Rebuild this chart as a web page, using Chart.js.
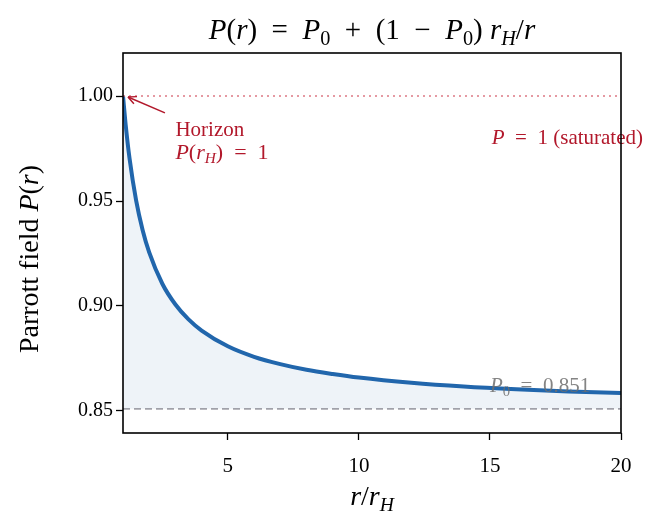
<!DOCTYPE html>
<html>
<head>
<meta charset="utf-8">
<script src="https://cdn.jsdelivr.net/npm/chart.js@4.4.1/dist/chart.umd.min.js"></script>
<style>
  html, body { margin: 0; padding: 0; background: #fff; }
  #wrap { width: 659px; height: 517px; }
</style>
</head>
<body>
<div id="wrap"><canvas id="chartParrott" width="659" height="517"></canvas></div>
<script>
// valores
const radios = [1, 1.1, 1.25, 1.5, 1.75, 2, 2.5, 3, 3.5, 4, 5, 6, 7, 8, 9, 10, 12, 14, 16, 18, 20];
const campoP = [1.000, 0.9865, 0.9702, 0.9503, 0.9361, 0.9255, 0.9106, 0.9007, 0.8936, 0.8883,
                0.8808, 0.8758, 0.8723, 0.8696, 0.8676, 0.8659, 0.8634, 0.8616, 0.8603, 0.8593, 0.8585];
const P0 = 0.851;
const xTicks = [5, 10, 15, 20];
const yTicks = [0.85, 0.90, 0.95, 1.00];

const serif = '"Liberation Serif", "DejaVu Serif", serif';
const rojo = '#b2182b';
const esp = '\u2002'; // espacio ancho de modo matematico

// dibuja texto con trozos en italica y subindices
function richText(ctx, parts, x, y, size, align, color) {
    ctx.save();
    ctx.fillStyle = color;
    ctx.textBaseline = 'alphabetic';
    ctx.textAlign = 'left';
    let total = 0;
    parts.forEach(p => {
        const s = p.sub ? size * 0.7 : size;
        ctx.font = (p.i ? 'italic ' : '') + s + 'px ' + serif;
        total += ctx.measureText(p.t).width;
    });
    let cx = align === 'center' ? x - total / 2 : align === 'right' ? x - total : x;
    parts.forEach(p => {
        const s = p.sub ? size * 0.7 : size;
        ctx.font = (p.i ? 'italic ' : '') + s + 'px ' + serif;
        ctx.fillText(p.t, cx, p.sub ? y + size * 0.22 : y);
        cx += ctx.measureText(p.t).width;
    });
    ctx.restore();
}

const textos = {
    id: 'textos',
    afterDraw(chart) {
        const ctx = chart.ctx;
        const xs = chart.scales.x, ys = chart.scales.y;
        const area = chart.chartArea;

        // titulo
        richText(ctx, [
            {t: 'P', i: true}, {t: '('}, {t: 'r', i: true}, {t: ')' + esp + '=' + esp},
            {t: 'P', i: true}, {t: '0', sub: true}, {t: esp + '+' + esp + '(1' + esp + '−' + esp},
            {t: 'P', i: true}, {t: '0', sub: true}, {t: ') '},
            {t: 'r', i: true}, {t: 'H', i: true, sub: true}, {t: '/'}, {t: 'r', i: true}
        ], (area.left + area.right) / 2, 39, 29, 'center', '#000');

        // titulo eje x
        richText(ctx, [{t: 'r', i: true}, {t: '/'}, {t: 'r', i: true}, {t: 'H', i: true, sub: true}],
            (area.left + area.right) / 2, 505, 28, 'center', '#000');

        // titulo eje y
        ctx.save();
        ctx.translate(38, (area.top + area.bottom) / 2 + 16);
        ctx.rotate(-Math.PI / 2);
        richText(ctx, [{t: 'Parrott field '}, {t: 'P', i: true}, {t: '('}, {t: 'r', i: true}, {t: ')'}],
            0, 0, 28, 'center', '#000');
        ctx.restore();

        // flecha del horizonte
        const tx = xs.getPixelForValue(1) + 5, ty = ys.getPixelForValue(1.0) + 1;
        const fx = xs.getPixelForValue(2.6), fy = ys.getPixelForValue(0.992);
        ctx.save();
        ctx.strokeStyle = rojo;
        ctx.fillStyle = rojo;
        ctx.lineWidth = 1.5;
        ctx.beginPath();
        ctx.moveTo(fx, fy);
        ctx.lineTo(tx, ty);
        ctx.stroke();
        const ang = Math.atan2(ty - fy, tx - fx);
        ctx.beginPath();
        ctx.moveTo(tx, ty);
        ctx.lineTo(tx - 9 * Math.cos(ang - 0.45), ty - 9 * Math.sin(ang - 0.45));
        ctx.moveTo(tx, ty);
        ctx.lineTo(tx - 9 * Math.cos(ang + 0.45), ty - 9 * Math.sin(ang + 0.45));
        ctx.stroke();
        ctx.restore();

        const hx = xs.getPixelForValue(3.0);
        richText(ctx, [{t: 'Horizon'}], hx, ys.getPixelForValue(0.9812), 21, 'left', rojo);
        richText(ctx, [{t: 'P', i: true}, {t: '('}, {t: 'r', i: true}, {t: 'H', i: true, sub: true}, {t: ')' + esp + '=' + esp + '1'}],
            hx, ys.getPixelForValue(0.9702), 22, 'left', rojo);

        richText(ctx, [{t: 'P', i: true}, {t: esp + '=' + esp + '1 (saturated)'}],
            area.right + 22, ys.getPixelForValue(0.9772), 21, 'right', rojo);

        richText(ctx, [{t: 'P', i: true}, {t: '0', sub: true}, {t: esp + '=' + esp + '0.851'}],
            xs.getPixelForValue(15.0), ys.getPixelForValue(0.8592), 21, 'left', 'rgba(110,110,110,0.85)');

        // marco
        ctx.save();
        ctx.strokeStyle = '#000';
        ctx.lineWidth = 1.6;
        ctx.strokeRect(area.left, area.top, area.right - area.left, area.bottom - area.top);
        ctx.restore();
    }
};

const configParrott = {
    type: 'line',
    data: {
        datasets: [
            {
                label: 'P = 1',
                data: [{x: 1, y: 1}, {x: 20, y: 1}],
                borderColor: 'rgba(214,96,110,0.85)',
                borderWidth: 1.5,
                borderDash: [2, 4],
                pointRadius: 0,
                fill: false
            },
            {
                label: 'P0',
                data: [{x: 1, y: P0}, {x: 20, y: P0}],
                borderColor: 'rgba(140,140,150,0.8)',
                borderWidth: 1.6,
                borderDash: [7, 4],
                pointRadius: 0,
                fill: false
            },
            {
                label: 'P(r)',
                data: radios.map((r, i) => ({x: r, y: campoP[i]})),
                borderColor: '#2166ac',
                backgroundColor: 'rgba(33,102,172,0.08)',
                borderWidth: 4,
                pointRadius: 0,
                cubicInterpolationMode: 'monotone',
                fill: {value: P0}
            }
        ]
    },
    options: {
        responsive: false,
        animation: false,
        layout: { padding: { top: 53, right: 38, left: 0, bottom: 0 } },
        plugins: { legend: { display: false }, tooltip: { enabled: false } },
        scales: {
            x: {
                type: 'linear',
                min: 1, max: 20,
                afterFit: s => { s.height = 84; },
                afterBuildTicks: s => { s.ticks = xTicks.map(v => ({value: v})); },
                grid: { display: true, drawOnChartArea: false, drawTicks: true, tickLength: 7,
                        tickColor: '#000', tickWidth: 1.3 },
                border: { display: false },
                ticks: { color: '#000', font: { family: serif, size: 21 }, padding: 14, maxRotation: 0 }
            },
            y: {
                type: 'linear',
                min: 0.8395, max: 1.0205,
                afterFit: s => { s.width = 123; },
                afterBuildTicks: s => { s.ticks = yTicks.map(v => ({value: v})); },
                grid: { display: true, drawOnChartArea: false, drawTicks: true, tickLength: 7,
                        tickColor: '#000', tickWidth: 1.3 },
                border: { display: false },
                ticks: { color: '#000', font: { family: serif, size: 20 }, padding: 3,
                         callback: v => v.toFixed(2) }
            }
        }
    },
    plugins: [textos]
};

var chartParrott = new Chart(document.getElementById('chartParrott'), configParrott);
</script>
</body>
</html>
